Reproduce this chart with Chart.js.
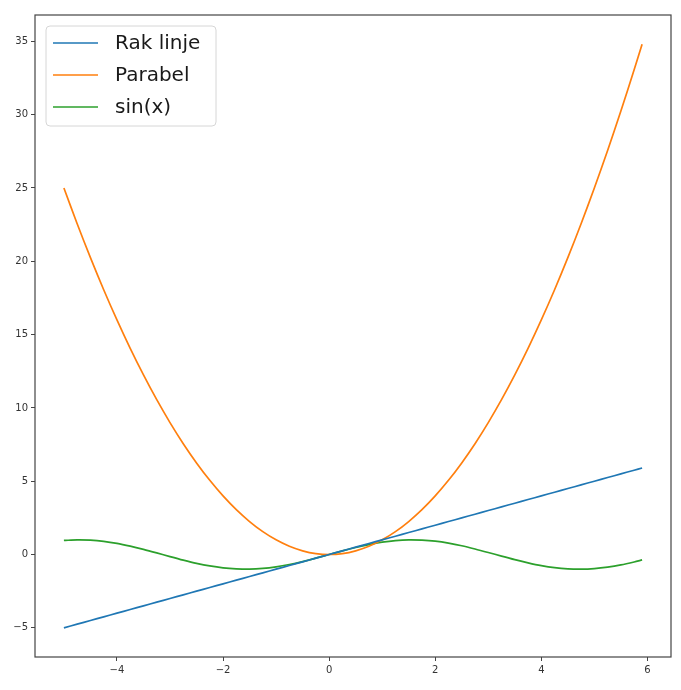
<!DOCTYPE html>
<html>
<head>
<meta charset="utf-8">
<script src="https://cdn.jsdelivr.net/npm/chart.js@4.4.0/dist/chart.umd.min.js"></script>
<style>
  body { margin: 0; background: #fff; }
  #wrap { width: 681px; height: 690px; }
</style>
</head>
<body>
<div id="wrap"><canvas id="plot"></canvas></div>
<script>
// values
const xValues = [-5, -4.75, -4.5, -4.25, -4, -3.75, -3.5, -3.25, -3, -2.75, -2.5, -2.25, -2, -1.75, -1.5, -1.25, -1, -0.75, -0.5, -0.25, 0,
    0.25, 0.5, 0.75, 1, 1.25, 1.5, 1.75, 2, 2.25, 2.5, 2.75, 3, 3.25, 3.5, 3.75, 4, 4.25, 4.5, 4.75, 5, 5.25, 5.5, 5.75, 5.9];
const linjeValues = [-5, -4.75, -4.5, -4.25, -4, -3.75, -3.5, -3.25, -3, -2.75, -2.5, -2.25, -2, -1.75, -1.5, -1.25, -1, -0.75, -0.5, -0.25, 0,
    0.25, 0.5, 0.75, 1, 1.25, 1.5, 1.75, 2, 2.25, 2.5, 2.75, 3, 3.25, 3.5, 3.75, 4, 4.25, 4.5, 4.75, 5, 5.25, 5.5, 5.75, 5.9];
const parabelValues = [25, 22.56, 20.25, 18.06, 16, 14.06, 12.25, 10.56, 9, 7.56, 6.25, 5.06, 4, 3.06, 2.25, 1.56, 1, 0.56, 0.25, 0.06, 0,
    0.06, 0.25, 0.56, 1, 1.56, 2.25, 3.06, 4, 5.06, 6.25, 7.56, 9, 10.56, 12.25, 14.06, 16, 18.06, 20.25, 22.56, 25, 27.56, 30.25, 33.06, 34.8];
const sinValues = [0.96, 1.0, 0.98, 0.9, 0.76, 0.57, 0.35, 0.11, -0.14, -0.38, -0.6, -0.78, -0.91, -0.98, -1.0, -0.95, -0.84, -0.68, -0.48, -0.25, 0,
    0.25, 0.48, 0.68, 0.84, 0.95, 1.0, 0.98, 0.91, 0.78, 0.6, 0.38, 0.14, -0.11, -0.35, -0.57, -0.76, -0.9, -0.98, -1.0, -0.96, -0.86, -0.71, -0.51, -0.37];
const seriesNames = ['Rak linje', 'Parabel', 'sin(x)'];
const seriesColors = ['#1f77b4', '#ff7f0e', '#2ca02c'];

const toPoints = ys => xValues.map((x, i) => ({ x: x, y: ys[i] }));
const minus = v => String(v).replace('-', '\u2212');

const frameAndLegend = {
    id: 'frameAndLegend',
    afterDraw(chart) {
        const ctx = chart.ctx;
        const a = chart.chartArea;
        ctx.save();
        ctx.strokeStyle = '#444';
        ctx.lineWidth = 1.2;
        ctx.strokeRect(a.left, a.top, a.right - a.left, a.bottom - a.top);

        // legend box, upper left
        const bx = a.left + 11, by = a.top + 11, bw = 170, bh = 100;
        ctx.beginPath();
        ctx.roundRect(bx, by, bw, bh, 4);
        ctx.fillStyle = 'rgba(255,255,255,0.8)';
        ctx.fill();
        ctx.strokeStyle = '#d6d6d6';
        ctx.lineWidth = 1;
        ctx.stroke();

        ctx.font = '20px "DejaVu Sans"';
        ctx.textBaseline = 'middle';
        ctx.fillStyle = '#1a1a1a';
        chart.data.datasets.forEach((ds, i) => {
            const y = by + 17 + i * 32;
            ctx.beginPath();
            ctx.moveTo(bx + 7, y);
            ctx.lineTo(bx + 52, y);
            ctx.strokeStyle = ds.borderColor;
            ctx.lineWidth = 1.7;
            ctx.stroke();
            ctx.fillText(ds.label, bx + 69, y + 1);
        });
        ctx.restore();
    }
};

const tickFont = { family: 'DejaVu Sans', size: 10 };

new Chart(document.getElementById('plot').getContext('2d'), {
    type: 'line',
    data: {
        datasets: [linjeValues, parabelValues, sinValues].map((ys, i) => ({
            label: seriesNames[i],
            data: toPoints(ys),
            borderColor: seriesColors[i],
            backgroundColor: seriesColors[i],
            borderWidth: 1.7,
            pointRadius: 0,
            fill: false,
            tension: 0.3
        }))
    },
    options: {
        responsive: true,
        maintainAspectRatio: false,
        animation: false,
        layout: { padding: { top: 15, right: 10, left: 0, bottom: 0 } },
        plugins: { legend: { display: false }, tooltip: { enabled: false } },
        scales: {
            x: {
                type: 'linear',
                min: -5.545,
                max: 6.445,
                afterFit: s => { s.height = 33; },
                border: { display: false },
                grid: { drawOnChartArea: false, drawTicks: true, tickLength: 4, color: '#444' },
                ticks: { stepSize: 2, includeBounds: false, color: '#333', font: tickFont, padding: 3, maxRotation: 0, callback: minus }
            },
            y: {
                type: 'linear',
                min: -6.99,
                max: 36.8,
                afterFit: s => { s.width = 35; },
                border: { display: false },
                grid: { drawOnChartArea: false, drawTicks: true, tickLength: 4, color: '#444' },
                ticks: { stepSize: 5, includeBounds: false, color: '#333', font: tickFont, padding: 3, callback: minus }
            }
        }
    },
    plugins: [frameAndLegend]
});
</script>
</body>
</html>
